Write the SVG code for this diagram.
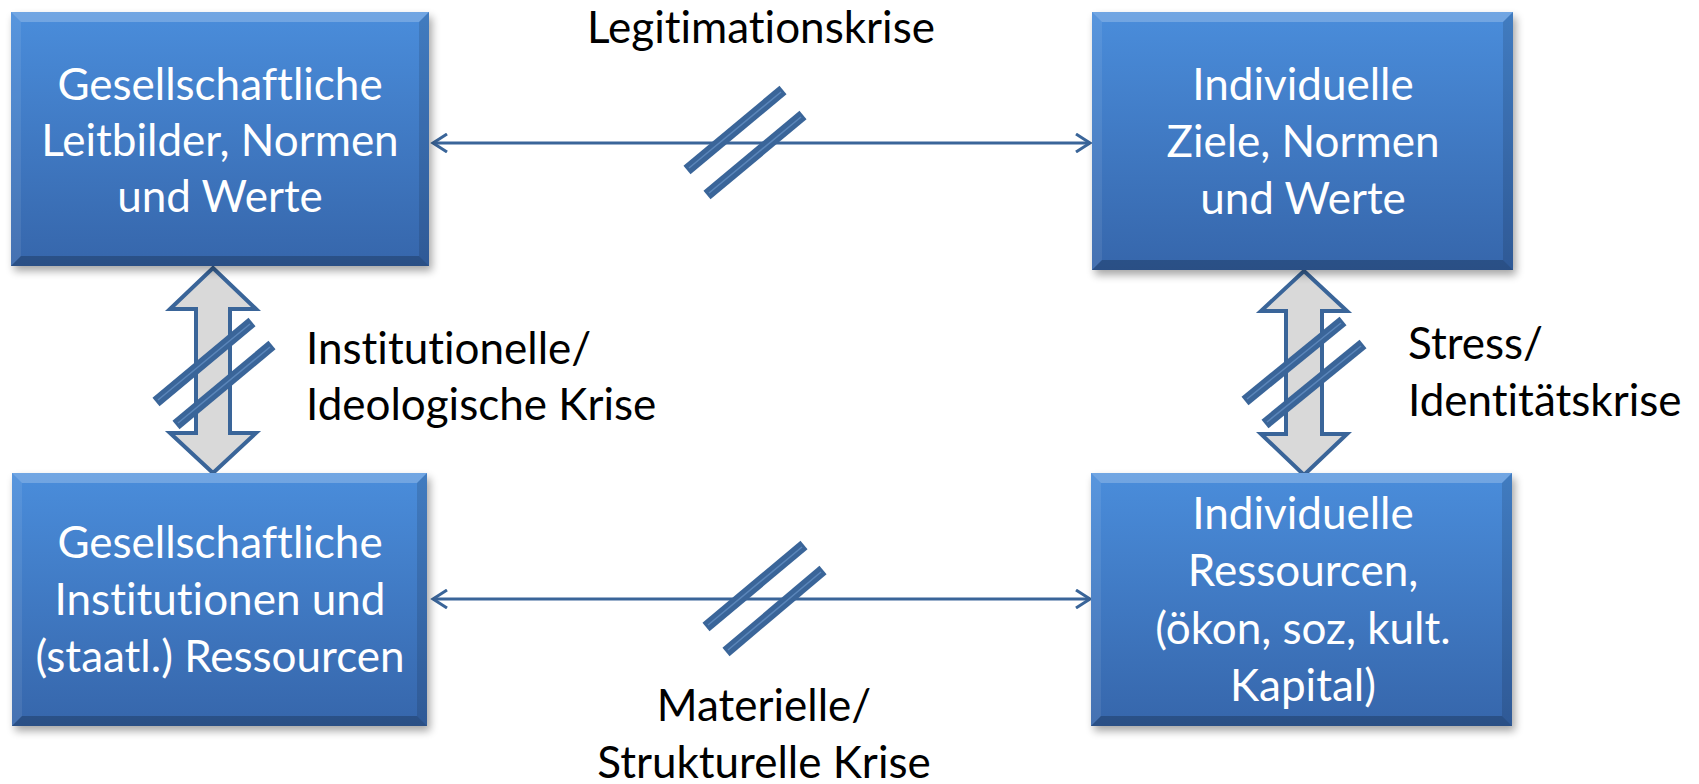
<svg xmlns="http://www.w3.org/2000/svg" width="1699" height="784" viewBox="0 0 1699 784">
<defs>
<linearGradient id="boxg" x1="0" y1="0" x2="0" y2="1">
<stop offset="0" stop-color="#4a8ddb"/>
<stop offset="1" stop-color="#3666ab"/>
</linearGradient>
<filter id="sh" x="-10%" y="-10%" width="130%" height="130%">
<feGaussianBlur stdDeviation="4"/>
</filter>
<marker id="ah" viewBox="0 0 20 20" refX="17" refY="10" markerWidth="20" markerHeight="20" markerUnits="userSpaceOnUse" orient="auto-start-reverse">
<path d="M3,1 L17,10 L3,19" fill="none" stroke="#3a6599" stroke-width="3"/>
</marker>
</defs>
<style>
.box{fill:url(#boxg);}
.shadow{fill:#000;opacity:0.35;filter:url(#sh);}
.bt{fill:#ffffff;opacity:0.22;}
.bl{fill:#ffffff;opacity:0.08;}
.br{fill:#000000;opacity:0.12;}
.bb{fill:#000000;opacity:0.22;}
text{font-variant-ligatures:none;font-feature-settings:"liga" 0,"clig" 0;}
.wt{font-family:Lato,"Liberation Sans",sans-serif;font-size:44px;fill:#ffffff;text-anchor:middle;}
.lb{font-family:Lato,"Liberation Sans",sans-serif;font-size:44px;fill:#000000;}
.line{stroke:#3a6599;stroke-width:3;fill:none;}
.bar{stroke:#3a6599;stroke-width:11;stroke-linecap:butt;}
.barin{stroke:#5b86ba;stroke-width:1.5;}
.blk{fill:#d9d9d9;stroke:#3a6599;stroke-width:4;stroke-linejoin:miter;}
</style>

<g id="connectors">
<line class="line" x1="433" y1="143" x2="1090" y2="143" marker-start="url(#ah)" marker-end="url(#ah)"/>
<line class="line" x1="433" y1="599" x2="1090" y2="599" marker-start="url(#ah)" marker-end="url(#ah)"/>
<path class="blk" d="M213,268 L256,309 L230,309 L230,433 L256,433 L213,473 L170,433 L196,433 L196,309 L170,309 Z"/>
<path class="blk" d="M1304,271 L1347,311 L1322,311 L1322,434 L1347,434 L1304,475 L1261,434 L1286,434 L1286,311 L1261,311 Z"/>
<g id="breaks">
<line class="bar" x1="687" y1="170" x2="783" y2="90"/><line class="barin" x1="689" y1="168" x2="781" y2="92"/>
<line class="bar" x1="707" y1="195" x2="803" y2="115"/><line class="barin" x1="709" y1="193" x2="801" y2="117"/>
<line class="bar" x1="706" y1="627" x2="804" y2="545"/><line class="barin" x1="708" y1="625" x2="802" y2="547"/>
<line class="bar" x1="726" y1="652" x2="823" y2="570"/><line class="barin" x1="728" y1="650" x2="821" y2="572"/>
<line class="bar" x1="156" y1="402" x2="252" y2="322"/><line class="barin" x1="158" y1="400" x2="250" y2="324"/>
<line class="bar" x1="176" y1="425" x2="272" y2="345"/><line class="barin" x1="178" y1="423" x2="270" y2="347"/>
<line class="bar" x1="1245" y1="401" x2="1343" y2="321"/><line class="barin" x1="1247" y1="399" x2="1341" y2="323"/>
<line class="bar" x1="1265" y1="424" x2="1363" y2="344"/><line class="barin" x1="1267" y1="422" x2="1361" y2="346"/>
</g>
</g>

<g id="label-legitimation"><text class="lb" x="761" y="43" text-anchor="middle">Legitimationskrise</text></g>
<g id="label-institutionell">
<text class="lb" x="306" y="364">Institutionelle/</text>
<text class="lb" x="306" y="420">Ideologische Krise</text>
</g>
<g id="label-stress">
<text class="lb" x="1408" y="359">Stress/</text>
<text class="lb" x="1408" y="416">Identitätskrise</text>
</g>
<g id="label-materiell">
<text class="lb" x="764" y="721" text-anchor="middle">Materielle/</text>
<text class="lb" x="764" y="778" text-anchor="middle">Strukturelle Krise</text>
</g>

<g id="node-ges-leitbilder">
<rect class="shadow" x="14" y="17" width="418" height="254"/>
<rect class="box" x="11" y="12" width="418" height="254"/>
<polygon class="bt" points="11,12 429,12 419,22 21,22"/>
<polygon class="bl" points="11,12 21,22 21,256 11,266"/>
<polygon class="br" points="429,12 429,266 419,256 419,22"/>
<polygon class="bb" points="11,266 21,256 419,256 429,266"/>
<text class="wt" x="220" y="100">Gesellschaftliche</text>
<text class="wt" x="220" y="156">Leitbilder, Normen</text>
<text class="wt" x="220" y="212">und Werte</text>
</g>

<g id="node-ind-ziele">
<rect class="shadow" x="1095" y="17" width="421" height="258"/>
<rect class="box" x="1092" y="12" width="421" height="258"/>
<polygon class="bt" points="1092,12 1513,12 1503,22 1102,22"/>
<polygon class="bl" points="1092,12 1102,22 1102,260 1092,270"/>
<polygon class="br" points="1513,12 1513,270 1503,260 1503,22"/>
<polygon class="bb" points="1092,270 1102,260 1503,260 1513,270"/>
<text class="wt" x="1303" y="100">Individuelle</text>
<text class="wt" x="1303" y="157">Ziele, Normen</text>
<text class="wt" x="1303" y="214">und Werte</text>
</g>

<g id="node-ges-institutionen">
<rect class="shadow" x="15" y="478" width="415" height="253"/>
<rect class="box" x="12" y="473" width="415" height="253"/>
<polygon class="bt" points="12,473 427,473 417,483 22,483"/>
<polygon class="bl" points="12,473 22,483 22,716 12,726"/>
<polygon class="br" points="427,473 427,726 417,716 417,483"/>
<polygon class="bb" points="12,726 22,716 417,716 427,726"/>
<text class="wt" x="220" y="558">Gesellschaftliche</text>
<text class="wt" x="220" y="615">Institutionen und</text>
<text class="wt" x="220" y="672">(staatl.) Ressourcen</text>
</g>

<g id="node-ind-ressourcen">
<rect class="shadow" x="1094" y="478" width="421" height="253"/>
<rect class="box" x="1091" y="473" width="421" height="253"/>
<polygon class="bt" points="1091,473 1512,473 1502,483 1101,483"/>
<polygon class="bl" points="1091,473 1101,483 1101,716 1091,726"/>
<polygon class="br" points="1512,473 1512,726 1502,716 1502,483"/>
<polygon class="bb" points="1091,726 1101,716 1502,716 1512,726"/>
<text class="wt" x="1303" y="529">Individuelle</text>
<text class="wt" x="1303" y="586">Ressourcen,</text>
<text class="wt" x="1303" y="644">(ökon, soz, kult.</text>
<text class="wt" x="1303" y="701">Kapital)</text>
</g>
</svg>
